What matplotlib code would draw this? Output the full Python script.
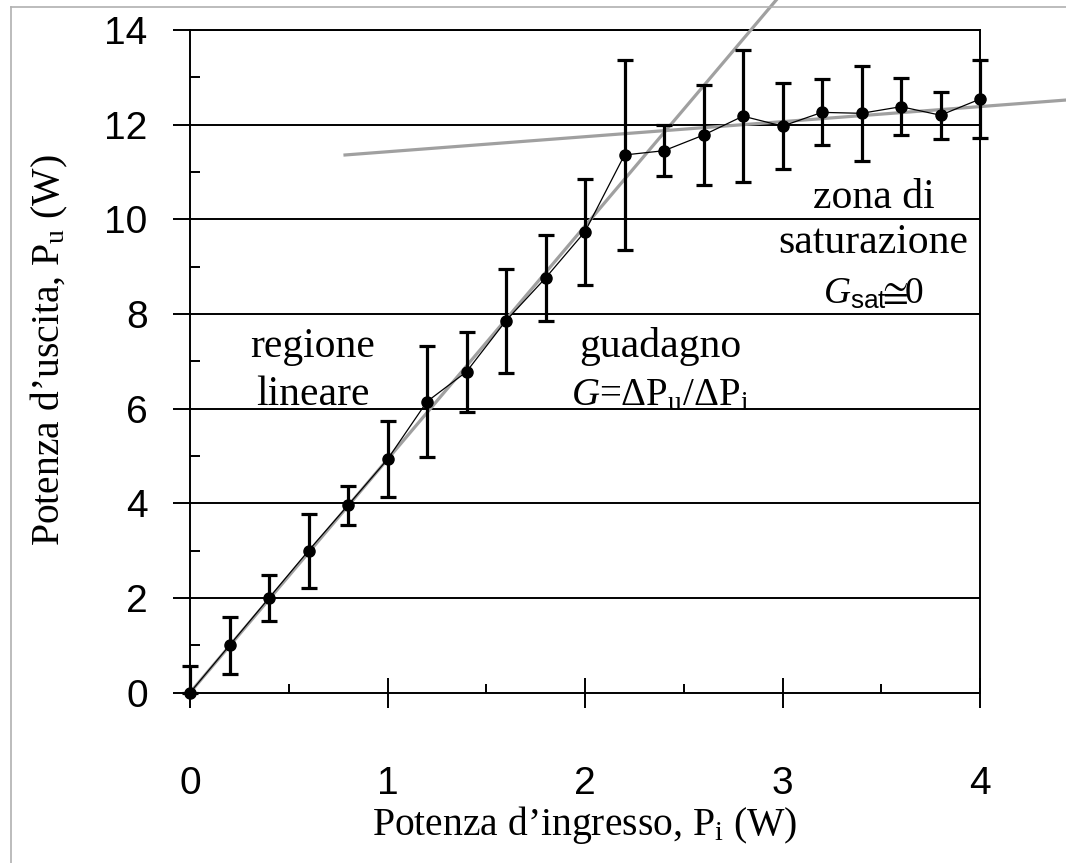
import matplotlib
matplotlib.use("Agg")
import matplotlib.pyplot as plt
from matplotlib.lines import Line2D
from matplotlib.ticker import MultipleLocator, FixedLocator

plt.rcParams["font.family"] = ["Liberation Serif", "DejaVu Serif"]
plt.rcParams["mathtext.fontset"] = "custom"
plt.rcParams["mathtext.rm"] = "Liberation Serif"
plt.rcParams["mathtext.it"] = "Liberation Serif:italic"
plt.rcParams["mathtext.sf"] = "Liberation Sans"
plt.rcParams["mathtext.fallback"] = "stix"

# Measured input/output power with uncertainties
p_in = [0.0, 0.2, 0.4, 0.6, 0.8, 1.0, 1.2, 1.4, 1.6, 1.8, 2.0,
        2.2, 2.4, 2.6, 2.8, 3.0, 3.2, 3.4, 3.6, 3.8, 4.0]
p_out = [0.0, 1.0, 2.0, 3.0, 3.96, 4.93, 6.15, 6.78, 7.86, 8.76, 9.74,
         11.36, 11.45, 11.78, 12.18, 11.97, 12.26, 12.24, 12.38, 12.20, 12.54]
err_up = [0.57, 0.60, 0.48, 0.78, 0.41, 0.80, 1.17, 0.85, 1.10, 0.90, 1.12,
          2.00, 0.54, 1.05, 1.40, 0.90, 0.70, 1.00, 0.60, 0.50, 0.82]
err_low = [0.00, 0.60, 0.48, 0.78, 0.41, 0.80, 1.17, 0.85, 1.10, 0.90, 1.12,
           2.00, 0.54, 1.05, 1.40, 0.90, 0.70, 1.00, 0.60, 0.50, 0.82]

# Trend lines: linear region (through origin) and saturation region
lin_slope = 4.93
lin_x = [0.0, 3.0]
sat_intercept = 11.11
sat_slope = 0.318
sat_x = [0.785, 4.6]

x_ticks = [0, 1, 2, 3, 4]
y_ticks = [0, 2, 4, 6, 8, 10, 12, 14]

W, H = 1066, 863
fig = plt.figure(figsize=(W / 100, H / 100), dpi=100)
ax = fig.add_axes([190 / W, (H - 692.7) / H, 790 / W, 662.7 / H])

ax.set_xlim(0, 4)
ax.set_ylim(0, 14)

# Horizontal grid
for yv in y_ticks[1:]:
    ax.axhline(yv, color="black", lw=1.4, zorder=1)

gray = "#a0a0a0"
ax.plot(lin_x, [lin_slope * v for v in lin_x], color=gray, lw=2.3,
        clip_on=False, zorder=3)
ax.plot(sat_x, [sat_intercept + sat_slope * v for v in sat_x], color=gray,
        lw=2.3, clip_on=False, zorder=3)

ax.plot(p_in, p_out, color="black", lw=0.9, zorder=4, clip_on=False)
ebar = ax.errorbar(p_in, p_out, yerr=[err_low, err_up], fmt="o",
                   color="black", ms=8, elinewidth=2.3, capsize=6,
                   capthick=2.3, zorder=5)
ebar[0].set_clip_on(False)
for artist in ebar[1]:
    artist.set_clip_on(False)
for artist in ebar[2]:
    artist.set_clip_on(False)

for side in ["left", "bottom", "right", "top"]:
    ax.spines[side].set_linewidth(1.4)
    ax.spines[side].set_color("black")

ax.xaxis.set_major_locator(FixedLocator(x_ticks))
ax.xaxis.set_minor_locator(MultipleLocator(0.5))
ax.yaxis.set_major_locator(FixedLocator(y_ticks))
ax.yaxis.set_minor_locator(MultipleLocator(1))

ax.tick_params(axis="y", which="major", direction="out", length=12.5,
               width=1.4, pad=18, labelsize=28)
ax.tick_params(axis="y", which="minor", direction="in", length=7.5,
               width=1.4)
ax.tick_params(axis="x", which="major", direction="inout", length=21,
               width=1.4, pad=42, labelsize=28)
ax.tick_params(axis="x", which="minor", direction="in", length=6.5,
               width=1.4)
for lab in ax.get_xticklabels() + ax.get_yticklabels():
    lab.set_fontfamily("Liberation Sans")

ax.set_xlabel("Potenza d\u2019ingresso, P$_\\mathrm{i}$ (W)", fontsize=28.5)
ax.xaxis.set_label_coords(0.5, -0.168)
ax.set_ylabel("Potenza d\u2019uscita, P$_\\mathrm{u}$ (W)", fontsize=28.5)
ax.yaxis.set_label_coords(-0.152, 0.517)

ax.text(0.623, 7.09, "regione", fontsize=30, ha="center", va="baseline")
ax.text(0.623, 6.08, "lineare", fontsize=30, ha="center", va="baseline")
ax.text(2.38, 7.09, "guadagno", fontsize=30, ha="center", va="baseline")
ax.text(2.38, 6.08, "$G$=\u0394P$_\\mathrm{u}$/\u0394P$_\\mathrm{i}$",
        fontsize=28, ha="center", va="baseline")
ax.text(3.46, 10.24, "zona di", fontsize=30, ha="center", va="baseline")
ax.text(3.46, 9.29, "saturazione", fontsize=30, ha="center", va="baseline")
ax.text(3.46, 8.23, "$G_\\mathsf{sat}\\!\\!\\cong\\!\\!$0", fontsize=27,
        ha="center", va="baseline")

# Thin grey frame around the figure
frame = dict(color="#b0b0b0", lw=1.2, transform=None)
fig.add_artist(Line2D([11, 11], [0, H - 7], **frame))
fig.add_artist(Line2D([11, W], [H - 7, H - 7], **frame))

fig.savefig("out.png", dpi=100)
